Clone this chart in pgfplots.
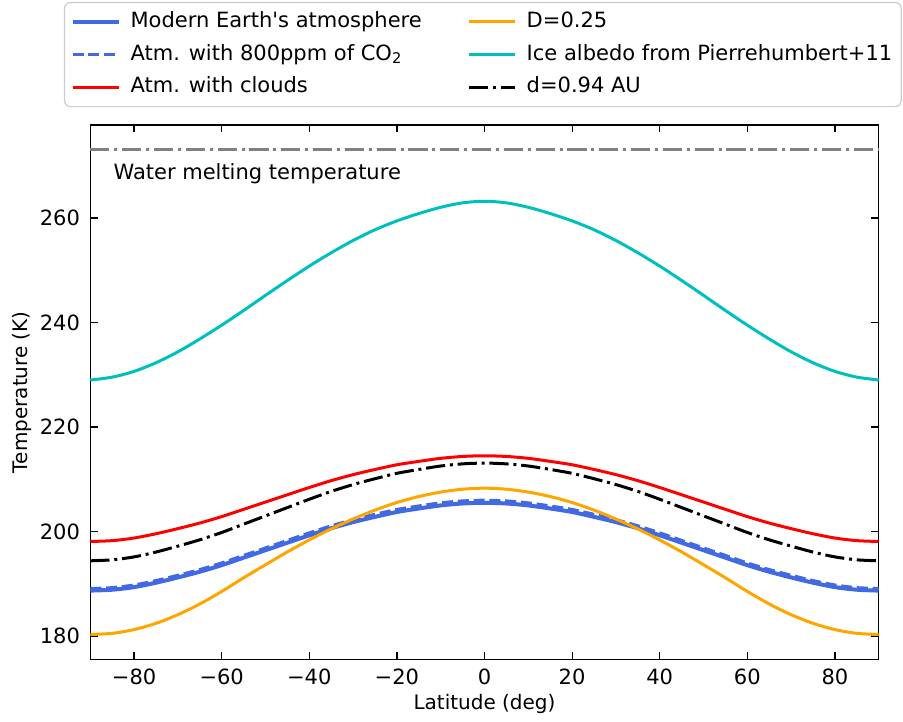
\documentclass[border=0pt]{standalone}
\usepackage{fontspec}
\setmainfont{DejaVu Sans}[Ligatures=TeXOff]
\usepackage{pgfplots}
\usepackage{pgfplotstable}
\pgfplotsset{compat=1.18}
\definecolor{royalblue}{HTML}{4169E1}
\definecolor{mplorange}{HTML}{FFA500}
\definecolor{mplcyan}{HTML}{00BFBF}
\definecolor{mplgray}{HTML}{808080}
\definecolor{legframe}{HTML}{CCCCCC}

\pgfplotstableread{
lat modern co2 clouds dlow ice dist
-90 188.70 189.10 198.10 180.30 229.00 194.40
-85 188.87 189.27 198.26 180.52 229.55 194.59
-80 189.37 189.78 198.76 181.24 230.65 195.15
-75 190.21 190.62 199.58 182.44 232.30 196.08
-70 191.22 191.64 200.56 184.09 234.40 197.21
-65 192.31 192.73 201.63 186.14 236.85 198.42
-60 193.57 194.00 202.86 188.54 239.50 199.82
-55 195.00 195.44 204.25 191.14 242.30 201.41
-50 196.43 196.87 205.64 193.65 245.20 203.00
-45 197.86 198.31 207.04 196.10 248.05 204.59
-40 199.28 199.75 208.43 198.40 250.80 206.18
-35 200.63 201.10 209.74 200.50 253.35 207.68
-30 201.80 202.28 210.89 202.40 255.70 208.99
-25 202.81 203.30 211.88 204.10 257.75 210.11
-20 203.74 204.23 212.78 205.55 259.45 211.14
-15 204.41 204.90 213.43 206.70 260.85 211.88
-10 205.00 205.49 214.01 207.55 262.05 212.54
-5 205.37 205.86 214.37 208.10 262.90 212.95
0 205.50 206.00 214.50 208.30 263.20 213.10
5 205.37 205.86 214.37 208.10 262.90 212.95
10 205.00 205.49 214.01 207.55 262.05 212.54
15 204.41 204.90 213.43 206.70 260.85 211.88
20 203.74 204.23 212.78 205.55 259.45 211.14
25 202.81 203.30 211.88 204.10 257.75 210.11
30 201.80 202.28 210.89 202.40 255.70 208.99
35 200.63 201.10 209.74 200.50 253.35 207.68
40 199.28 199.75 208.43 198.40 250.80 206.18
45 197.86 198.31 207.04 196.10 248.05 204.59
50 196.43 196.87 205.64 193.65 245.20 203.00
55 195.00 195.44 204.25 191.14 242.30 201.41
60 193.57 194.00 202.86 188.54 239.50 199.82
65 192.31 192.73 201.63 186.14 236.85 198.42
70 191.22 191.64 200.56 184.09 234.40 197.21
75 190.21 190.62 199.58 182.44 232.30 196.08
80 189.37 189.78 198.76 181.24 230.65 195.15
85 188.87 189.27 198.26 180.52 229.55 194.59
90 188.70 189.10 198.10 180.30 229.00 194.40
}\datatable

\pgfplotstableread{
lat t
-90 273.15
90 273.15
}\meltline

\begin{document}
\begin{tikzpicture}
\begin{axis}[
  scale only axis,
  width=394.2pt, height=267.15pt,
  xmin=-90, xmax=90, ymin=175.55, ymax=277.8,
  xtick={-80,-60,-40,-20,0,20,40,60,80},
  xticklabels={−80,−60,−40,−20,0,20,40,60,80},
  ytick={180,200,220,240,260},
  yticklabels={180,200,220,240,260},
  tick align=inside,
  major tick length=3.7pt,
  axis line style={line width=0.6pt},
  every tick/.style={black, line width=0.6pt},
  tick label style={font=\fontsize{10.5}{12.6}\selectfont},
  xticklabel style={anchor=north, inner sep=0pt, yshift=-4.5pt},
  yticklabel style={anchor=east, inner sep=0pt, xshift=-5pt},
  xlabel={Latitude (deg)},
  ylabel={Temperature (K)},
  label style={font=\fontsize{10.5}{12.6}\selectfont},
  every axis x label/.style={at={(axis description cs:0.5,-0.0837)}, anchor=center},
  every axis y label/.style={at={(axis description cs:-0.0866,0.5)}, anchor=center, rotate=90},
  clip=false,
  legend columns=3,
  transpose legend,
  legend cell align=left,
  legend image code/.code={\draw[#1] (0pt,0pt) -- (23pt,0pt); \path (26.5pt,0pt);},
  legend style={
    at={(rel axis cs:-0.0334,1.2303)}, anchor=north west,
    draw=legframe, line width=0.6pt, rounded corners=3pt,
    font=\fontsize{10.5}{12.6}\selectfont,
    inner xsep=3pt, inner ysep=1.5pt,
    row sep=0pt,
    nodes={inner xsep=1.5pt, inner ysep=3pt, text height=8pt, text depth=2.35pt},
    /tikz/column 2/.style={column sep=21.5pt},
  },
]
\path (rel axis cs:-0.11454,-0.11548) rectangle (rel axis cs:1.03082,1.23395);

\addplot[mplgray, line width=1.5pt, dash pattern=on 9.6pt off 2.4pt on 1.5pt off 2.4pt, forget plot] table[x=lat,y=t] {\meltline};

\addplot[royalblue, line width=2pt, smooth] table[x=lat,y=modern] {\datatable};
\addlegendentry{Modern Earth's atmosphere}
\addplot[royalblue, line width=1.5pt, smooth, dash pattern=on 5.5pt off 2.4pt] table[x=lat,y=co2] {\datatable};
\addlegendentry{Atm. with 800ppm of CO\textsubscript{2}}
\addplot[red, line width=1.5pt, smooth] table[x=lat,y=clouds] {\datatable};
\addlegendentry{Atm. with clouds}
\addplot[mplorange, line width=1.5pt, smooth] table[x=lat,y=dlow] {\datatable};
\addlegendentry{D=0.25}
\addplot[mplcyan, line width=1.5pt, smooth] table[x=lat,y=ice] {\datatable};
\addlegendentry{Ice albedo from Pierrehumbert+11}
\addplot[black, line width=1.5pt, smooth, dash pattern=on 9.6pt off 2.4pt on 1.5pt off 2.4pt] table[x=lat,y=dist] {\datatable};
\addlegendentry{d=0.94 AU}

\node[anchor=west, inner sep=0pt, font=\fontsize{10.5}{12.6}\selectfont] at (rel axis cs:0.029,0.908) {Water melting temperature};
\end{axis}
\end{tikzpicture}
\end{document}
